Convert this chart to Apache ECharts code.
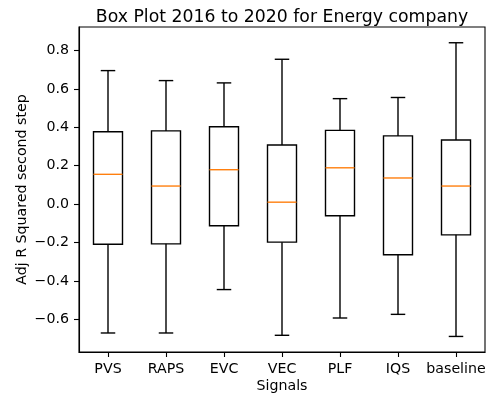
<!DOCTYPE html>
<html>
<head>
<meta charset="utf-8">
<script src="https://cdn.jsdelivr.net/npm/echarts@6/dist/echarts.min.js"></script>
<style>html,body{margin:0;padding:0;background:#fff;}#chart{width:491px;height:396px;}</style>
</head>
<body>
<div id="chart"></div>
<script>
const categories = ['PVS', 'RAPS', 'EVC', 'VEC', 'PLF', 'IQS', 'baseline'];
const whiskerLow = [-0.671, -0.671, -0.445, -0.683, -0.593, -0.574, -0.689];
const q1 = [-0.209, -0.207, -0.113, -0.198, -0.061, -0.264, -0.160];
const median = [0.155, 0.094, 0.179, 0.010, 0.189, 0.136, 0.094];
const q3 = [0.377, 0.381, 0.403, 0.308, 0.384, 0.355, 0.334];
const whiskerHigh = [0.695, 0.643, 0.631, 0.754, 0.549, 0.555, 0.840];
const yTicks = [-0.6, -0.4, -0.2, 0.0, 0.2, 0.4, 0.6, 0.8];

const rows = categories.map((c, i) => [i, whiskerLow[i], q1[i], median[i], q3[i], whiskerHigh[i]]);
const FONT = 'DejaVu Sans';
const fmt = v => (Math.round(v * 10) / 10).toFixed(1).replace('-', '\u2212');

const chart = echarts.init(document.getElementById('chart'), null, {renderer: 'canvas'});
chart.setOption({
  animation: false,
  backgroundColor: '#fff',
  title: {
    text: 'Box Plot 2016 to 2020 for Energy company',
    left: 277, top: 4, textAlign: 'center',
    textStyle: {fontFamily: FONT, fontSize: 17.3, fontWeight: 'normal', color: '#000'}
  },
  grid: {left: 79, right: 6, top: 27, bottom: 44, containLabel: false, outerBoundsMode: 'none', show: true, borderColor: '#000', borderWidth: 1.1, backgroundColor: 'transparent'},
  xAxis: {
    type: 'category', data: categories, boundaryGap: true,
    name: 'Signals', nameLocation: 'middle', nameGap: 27, nameMoveOverlap: false,
    nameTextStyle: {fontFamily: FONT, fontSize: 14.2, color: '#000'},
    axisLine: {show: true, onZero: false, lineStyle: {color: '#000', width: 1.1}},
    axisTick: {show: true, alignWithLabel: true, length: 5, lineStyle: {color: '#000', width: 1.1}},
    axisLabel: {fontFamily: FONT, fontSize: 14.2, color: '#000', margin: 10, interval: 0},
    splitLine: {show: false}
  },
  yAxis: {
    type: 'value', min: -0.770, max: 0.922,
    name: 'Adj R Squared second step', nameLocation: 'middle', nameGap: 50, nameRotate: 90, nameMoveOverlap: false,
    nameTextStyle: {fontFamily: FONT, fontSize: 14.2, color: '#000'},
    axisLine: {show: true, onZero: false, lineStyle: {color: '#000', width: 1.1}},
    axisTick: {show: true, length: 5, customValues: yTicks, lineStyle: {color: '#000', width: 1.1}},
    axisLabel: {fontFamily: FONT, fontSize: 14.2, color: '#000', margin: 10, customValues: yTicks, formatter: fmt},
    splitLine: {show: false}
  },
  series: [{
    type: 'custom',
    data: rows,
    encode: {x: 0, y: [1, 2, 3, 4, 5]},
    clip: false,
    renderItem: function (params, api) {
      const i = api.value(0);
      const x = api.coord([i, api.value(3)])[0];
      const band = api.size([1, 0])[0];
      const bw = band * 0.5, cw = band * 0.25;
      const y = v => api.coord([i, v])[1];
      const yMin = y(api.value(1)), yQ1 = y(api.value(2)), yMed = y(api.value(3)), yQ3 = y(api.value(4)), yMax = y(api.value(5));
      const ls = {stroke: '#000', lineWidth: 1.4, fill: null};
      return {
        type: 'group',
        children: [
          {type: 'line', shape: {x1: x, y1: yQ1, x2: x, y2: yMin}, style: ls},
          {type: 'line', shape: {x1: x, y1: yQ3, x2: x, y2: yMax}, style: ls},
          {type: 'line', shape: {x1: x - cw / 2, y1: yMin, x2: x + cw / 2, y2: yMin}, style: ls},
          {type: 'line', shape: {x1: x - cw / 2, y1: yMax, x2: x + cw / 2, y2: yMax}, style: ls},
          {type: 'rect', shape: {x: x - bw / 2, y: yQ3, width: bw, height: yQ1 - yQ3}, style: {stroke: '#000', fill: null, lineWidth: 1.4}},
          {type: 'line', shape: {x1: x - bw / 2, y1: yMed, x2: x + bw / 2, y2: yMed}, style: {stroke: '#ff7f0e', lineWidth: 1.4}}
        ]
      };
    }
  }]
});
</script>
</body>
</html>
